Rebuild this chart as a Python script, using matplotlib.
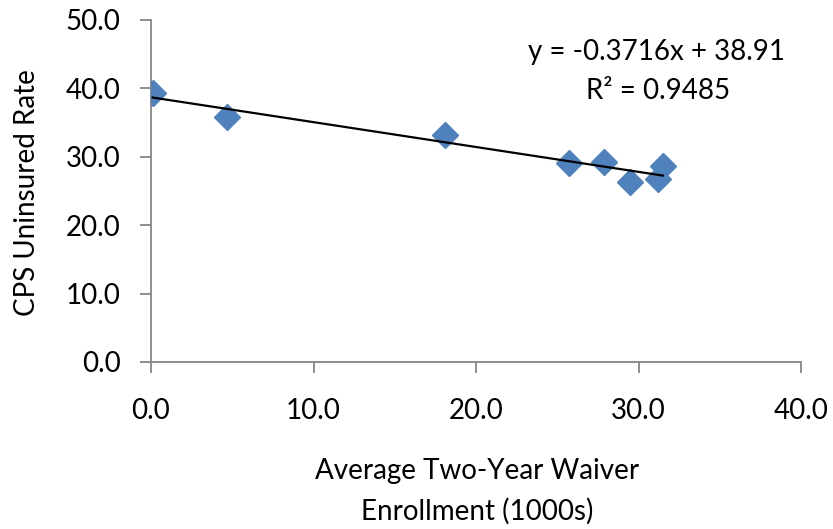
import numpy as np
import matplotlib
matplotlib.use('Agg')
import matplotlib.pyplot as plt

# Waiver enrollment (1000s) vs CPS uninsured rate
enrollment = [0.1, 4.7, 18.1, 25.7, 27.9, 29.5, 31.2, 31.5]
uninsured = [39.3, 35.8, 33.2, 29.1, 29.3, 26.3, 26.7, 28.6]

x_ticks = [0, 10, 20, 30, 40]
y_ticks = [0, 10, 20, 30, 40, 50]

plt.rcParams['font.family'] = ['Lato', 'DejaVu Sans']

W, H = 833, 529
fig = plt.figure(figsize=(W / 100, H / 100), dpi=100)
ax = fig.add_axes([151 / W, 1 - 362 / H, 650 / W, 342 / H])

ax.plot(enrollment, uninsured, linestyle='none', marker='D', markersize=13,
        color='#4F81BD', zorder=3)

# Linear trendline fitted to the points
slope, intercept = np.polyfit(enrollment, uninsured, 1)
xs = np.array([min(enrollment), max(enrollment)])
ax.plot(xs, slope * xs + intercept, color='black', linewidth=1.6, zorder=4)

fs = 20
fig.text(657 / W, 1 - 52 / H, 'y = -0.3716x + 38.91', fontsize=fs,
         ha='center', va='center')
fig.text(658 / W, 1 - 91 / H, 'R² = 0.9485', fontsize=fs,
         ha='center', va='center')

ax.set_xlim(0, 40)
ax.set_ylim(0, 50)
ax.set_xticks(x_ticks)
ax.set_yticks(y_ticks)
ax.set_xticklabels([f'{v:.1f}' for v in x_ticks])
ax.set_yticklabels([f'{v:.1f}' for v in y_ticks])

for side in ['top', 'right']:
    ax.spines[side].set_visible(False)
for side in ['left', 'bottom']:
    ax.spines[side].set_color('#868686')
    ax.spines[side].set_linewidth(1.3)

ax.tick_params(axis='both', colors='#868686', labelcolor='black', labelsize=fs,
               length=8, width=1.3, direction='out')
ax.tick_params(axis='x', pad=18)
ax.tick_params(axis='y', pad=14)

# axis titles
fig.text(477 / W, 1 - 471 / H, 'Average Two-Year Waiver', fontsize=fs,
         ha='center', va='center')
fig.text(477 / W, 1 - 511 / H, 'Enrollment (1000s)', fontsize=fs,
         ha='center', va='center')
fig.text(27 / W, 1 - 193 / H, 'CPS Uninsured Rate', fontsize=fs,
         rotation=90, ha='center', va='center')

fig.savefig('out.png', dpi=100)
